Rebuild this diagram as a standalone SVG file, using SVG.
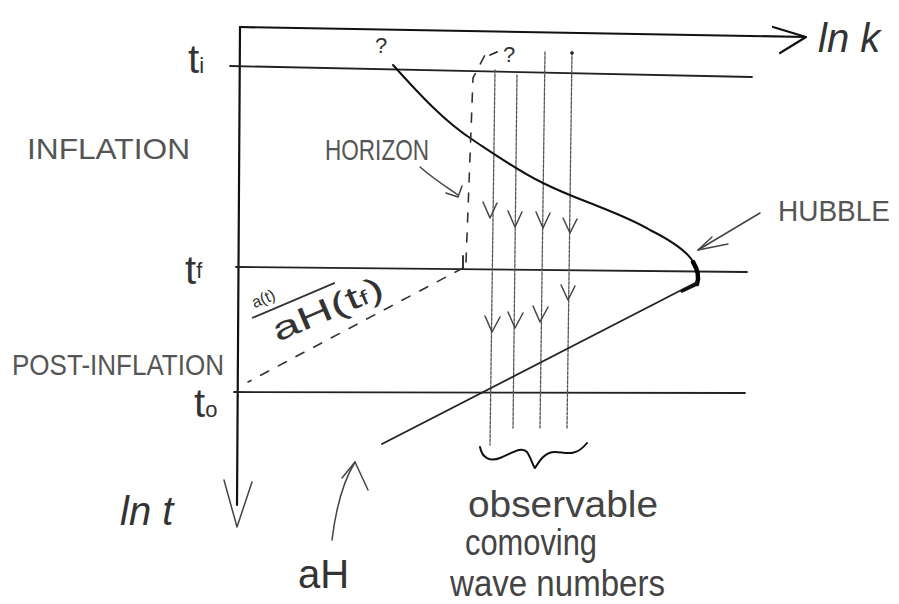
<svg xmlns="http://www.w3.org/2000/svg" width="899" height="604" viewBox="0 0 899 604">
<style>
.ax{fill:none;stroke:#111;stroke-width:2.2;stroke-linecap:round;stroke-linejoin:round}
.ln{fill:none;stroke:#222;stroke-width:1.8;stroke-linecap:round;stroke-linejoin:round}
.th{fill:none;stroke:#555;stroke-width:1.3;stroke-linecap:round;stroke-dasharray:3 1.5}
.ds{fill:none;stroke:#333;stroke-width:1.6;stroke-linecap:round;stroke-dasharray:9 11}
.ar{fill:none;stroke:#444;stroke-width:1.5;stroke-linecap:round;stroke-linejoin:round}
.cv{fill:none;stroke:#111;stroke-width:2;stroke-linecap:round;stroke-linejoin:round}
text{font-family:"Liberation Sans",Arial,sans-serif;fill:#333}
.cap{font-size:30px;fill:#555}
.big{font-size:40px;fill:#333}
.hw{font-size:36px;fill:#444}
</style>
<rect width="899" height="604" fill="#fff"/>
<g id="connectors">
  <path class="ax" d="M240,27 L806,37"/>
  <path class="ax" d="M773,27 L806,37 L780,53"/>
  <path class="ax" d="M240,27 L237,505"/>
  <path class="ar" d="M224,480 L237,527 L252,482"/>
  <path class="ln" d="M230,66 L752,77"/>
  <path class="ln" d="M236,267 L747,272"/>
  <path class="ln" d="M234,392 L745,393"/>
  <path class="th" d="M495,70 L490,445"/>
  <path class="th" d="M517,75 L513,428"/>
  <path class="th" d="M545,52 L540,428"/>
  <path class="th" d="M572,52 L567,428"/>
  <circle cx="572" cy="53" r="1.8" fill="#222"/>
  <g class="ar">
    <path d="M483,202 L490,218 L497,203"/>
    <path d="M508,211 L515,227 L522,212"/>
    <path d="M536,212 L543,228 L550,213"/>
    <path d="M563,218 L570,233 L577,219"/>
    <path d="M485,316 L492,332 L500,317"/>
    <path d="M508,312 L515,328 L523,313"/>
    <path d="M533,306 L540,322 L548,307"/>
    <path d="M561,285 L568,300 L575,286"/>
  </g>
  <path class="cv" d="M393,65 C420,95 445,122 473,140 C500,158 520,172 543,183 C565,194 585,201 600,207 C625,217 640,224 650,230 C670,240 685,250 692,260 C697,267 698,275 697,282"/>
  <path d="M693,262 C698,270 699,278 697,284" fill="none" stroke="#000" stroke-width="4.5" stroke-linecap="round"/>
  <path class="ln" d="M697,282 L382,444" stroke="#444"/>
  <path d="M697,284 L682,291" stroke="#111" stroke-width="3.5" stroke-linecap="round"/>
  <path class="ds" d="M466,262 L473,78 L485,55" stroke-dasharray="14 9"/>
  <path class="ln" d="M463,256 L463,268"/>
  <path class="ln" d="M490,55 L497,52"/>
  <path class="ds" d="M463,268 L248,382"/>
  <path class="cv" d="M480,447 C482,458 490,462 500,458 C512,453 522,446 527,452 C531,458 533,466 535,468 C540,460 545,452 555,452 C565,452 575,458 587,443" stroke-width="2.2"/>
  <path class="ar" d="M332,540 Q338,490 355,462"/>
  <path class="ar" d="M342,478 L355,462 L368,490"/>
  <path class="ar" d="M760,213 L698,250"/>
  <path class="ar" d="M712,237 L698,250 L728,244"/>
  <path class="ar" d="M420,167 C435,180 448,188 458,195"/>
  <path class="ar" d="M446,193 L458,197 L462,186"/>
</g>
<g id="label-lnk"><text class="big" x="818" y="52" font-style="italic">ln k</text></g>
<g id="label-lnt"><text class="big" x="120" y="525" font-style="italic" font-size="44">ln t</text></g>
<g id="label-ti"><text class="big" x="188" y="73" font-size="44">t<tspan font-size="22">i</tspan></text></g>
<g id="label-tf"><text class="big" x="185" y="284">t<tspan font-size="22" dy="-6">f</tspan></text></g>
<g id="label-t0"><text class="big" x="194" y="417" font-size="32">t<tspan font-size="22">o</tspan></text></g>
<g id="label-inflation"><text class="cap" x="27" y="159" font-size="32" textLength="163" lengthAdjust="spacingAndGlyphs">INFLATION</text></g>
<g id="label-post"><text class="cap" x="12" y="375" font-size="30" textLength="212" lengthAdjust="spacingAndGlyphs">POST-INFLATION</text></g>
<g id="label-horizon"><text class="cap" x="325" y="160" font-size="28" textLength="104" lengthAdjust="spacingAndGlyphs">HORIZON</text></g>
<g id="label-hubble"><text class="cap" x="778" y="221" font-size="32" textLength="112" lengthAdjust="spacingAndGlyphs">HUBBLE</text></g>
<g id="label-q1"><text x="375" y="53" font-size="22" fill="#222">?</text></g>
<g id="label-q2"><text x="503" y="62" font-size="22" fill="#222">?</text></g>
<g id="label-fraction" transform="translate(252,318) rotate(-23)">
  <text x="6" y="-8" font-size="16" fill="#444">a(t)</text>
  <line x1="0" y1="0" x2="90" y2="0" stroke="#333" stroke-width="1.8"/>
  <text x="14" y="32" font-size="32" fill="#333" textLength="118" lengthAdjust="spacingAndGlyphs">aH(t<tspan font-size="20">f</tspan>)</text>
</g>
<g id="label-aH"><text class="big" x="298" y="588">aH</text></g>
<g id="label-obs">
  <text class="hw" x="468" y="517" font-size="40" textLength="190" lengthAdjust="spacingAndGlyphs">observable</text>
  <text class="hw" x="465" y="555" font-size="34" textLength="132" lengthAdjust="spacingAndGlyphs">comoving</text>
  <text class="hw" x="450" y="596" font-size="34" textLength="215" lengthAdjust="spacingAndGlyphs">wave numbers</text>
</g>
</svg>
